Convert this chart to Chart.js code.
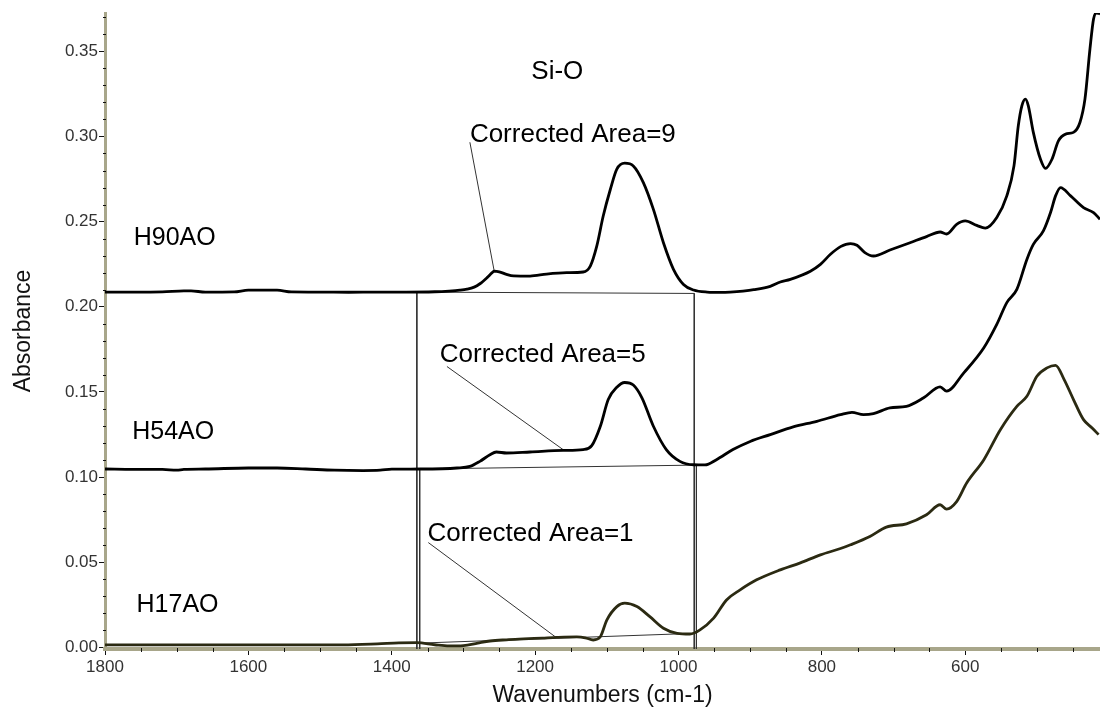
<!DOCTYPE html>
<html>
<head>
<meta charset="utf-8">
<title>Si-O absorbance</title>
<script src="https://cdn.jsdelivr.net/npm/chart.js@4.4.1/dist/chart.umd.min.js"></script>
<style>
  html, body { margin: 0; padding: 0; background: #fff; }
  #wrap { width: 1100px; height: 719px; }
</style>
</head>
<body>
<div id="wrap"><canvas id="chart"></canvas></div>
<script>
/* ---------- DATA ---------- */
const xTickValues = [1800, 1600, 1400, 1200, 1000, 800, 600];
const yTickValues = [0, 0.05, 0.10, 0.15, 0.20, 0.25, 0.30, 0.35];

const h90Wn = [1800, 1760, 1720, 1690, 1680, 1660, 1620, 1600, 1560, 1540, 1500, 1460, 1420, 1380, 1340, 1320,
  1305, 1295, 1285, 1277, 1267, 1260, 1257, 1250, 1240, 1230, 1207, 1184, 1156, 1133, 1123, 1114, 1105, 1095,
  1086, 1075, 1063, 1049, 1035, 1021, 1007, 993, 979, 960, 940, 928, 910, 895, 872, 858, 844, 816, 802, 788,
  774, 760, 751, 740, 728, 705, 677, 654, 635, 626, 612, 600, 584, 572, 556, 542, 532, 526, 521, 516, 512,
  505, 495, 488, 479, 470, 460, 449, 440, 433, 426, 421, 417, 412];
const h90Abs = [0.2086, 0.2086, 0.2087, 0.2093, 0.2093, 0.2086, 0.2087, 0.2097, 0.2097, 0.2087, 0.2086, 0.2085,
  0.2086, 0.2086, 0.2088, 0.2092, 0.2097, 0.2103, 0.2115, 0.2135, 0.2171, 0.2200, 0.2209, 0.2205, 0.2190,
  0.2181, 0.2180, 0.2192, 0.2200, 0.2204, 0.2239, 0.2356, 0.2533, 0.2690, 0.2808, 0.2843, 0.2827, 0.2729,
  0.2572, 0.2376, 0.2220, 0.2131, 0.2098, 0.2086, 0.2084, 0.2086, 0.2092, 0.2100, 0.2120, 0.2145, 0.2161,
  0.2209, 0.2249, 0.2308, 0.2353, 0.2371, 0.2361, 0.2318, 0.2298, 0.2333, 0.2376, 0.2412, 0.2439, 0.2427,
  0.2484, 0.2504, 0.2478, 0.2462, 0.2524, 0.2651, 0.2827, 0.3062, 0.3180, 0.3219, 0.3180, 0.3024, 0.2866,
  0.2812, 0.2866, 0.2974, 0.3014, 0.3024, 0.3082, 0.3219, 0.3514, 0.3690, 0.3725, 0.3720];

const h54Wn = [1800, 1760, 1720, 1700, 1690, 1660, 1600, 1560, 1520, 1480, 1440, 1416, 1400, 1360, 1309, 1291,
  1277, 1263, 1254, 1240, 1207, 1161, 1133, 1121, 1109, 1098, 1086, 1075, 1063, 1051, 1035, 1017, 998, 979,
  963, 947, 924, 900, 872, 840, 807, 774, 758, 742, 728, 705, 682, 658, 635, 626, 602, 574, 556, 542, 528,
  514, 505, 491, 481, 474, 467, 453, 435, 421, 412];
const h54Abs = [0.1047, 0.1045, 0.1045, 0.1040, 0.1045, 0.1047, 0.1053, 0.1053, 0.1047, 0.1040, 0.1038, 0.1040,
  0.1046, 0.1047, 0.1053, 0.1062, 0.1092, 0.1131, 0.1147, 0.1141, 0.1147, 0.1156, 0.1161, 0.1184, 0.1298,
  0.1455, 0.1527, 0.1555, 0.1540, 0.1465, 0.1298, 0.1161, 0.1092, 0.1072, 0.1071, 0.1102, 0.1161, 0.1209,
  0.1249, 0.1294, 0.1327, 0.1366, 0.1380, 0.1366, 0.1372, 0.1406, 0.1415, 0.1465, 0.1529, 0.1504, 0.1612,
  0.1759, 0.1896, 0.2024, 0.2102, 0.2278, 0.2366, 0.2445, 0.2553, 0.2651, 0.2700, 0.2651, 0.2582, 0.2553,
  0.2514];

const h17Wn = [1800, 1700, 1600, 1500, 1468, 1420, 1390, 1365, 1340, 1320, 1300, 1280, 1263, 1240, 1216, 1190,
  1170, 1142, 1130, 1119, 1109, 1100, 1086, 1075, 1058, 1040, 1021, 1002, 984, 970, 951, 933, 914, 891, 858,
  830, 802, 774, 760, 733, 710, 682, 654, 635, 626, 612, 598, 574, 551, 528, 514, 500, 486, 474, 462, 449,
  435, 423, 414];
const h17Abs = [0.0014, 0.0014, 0.0014, 0.0014, 0.0014, 0.0020, 0.0026, 0.0027, 0.0015, 0.0008, 0.0010, 0.0025,
  0.0037, 0.0044, 0.0049, 0.0054, 0.0058, 0.0061, 0.0056, 0.0043, 0.0062, 0.0160, 0.0239, 0.0259, 0.0239,
  0.0180, 0.0112, 0.0082, 0.0078, 0.0102, 0.0171, 0.0278, 0.0337, 0.0396, 0.0455, 0.0496, 0.0543, 0.0580,
  0.0602, 0.0651, 0.0706, 0.0725, 0.0778, 0.0837, 0.0812, 0.0856, 0.0965, 0.1102, 0.1278, 0.1415, 0.1474,
  0.1592, 0.1641, 0.1656, 0.1572, 0.1455, 0.1337, 0.1288, 0.1249];

// baselines, integration limits and leader lines: [wn1, abs1, wn2, abs2]
const guideLines = [
  [1365, 0.2086, 978, 0.2078],
  [1365, 0.2086, 1365, -0.001],
  [978, 0.2078, 978, -0.001],
  [1361, 0.1047, 975, 0.1070],
  [1361, 0.1047, 1361, -0.001],
  [975, 0.1070, 975, -0.001],
  [1365, 0.0024, 978, 0.0082],
  [1291, 0.2966, 1257, 0.2208],
  [1323, 0.1649, 1161, 0.1161],
  [1349, 0.0615, 1171, 0.0059]
];

// text notes: [text, wn, abs, size, align]
const textNotes = [
  ["Si-O", 1169, 0.3337, 26, "center"],
  ["Corrected Area=9", 1291, 0.2965, 26, "left"],
  ["Corrected Area=5", 1333, 0.1678, 26, "left"],
  ["Corrected Area=1", 1350, 0.0627, 26, "left"],
  ["H90AO", 1760, 0.2360, 25, "left"],
  ["H54AO", 1762, 0.1224, 25, "left"],
  ["H17AO", 1756, 0.0209, 25, "left"]
];

const FONT = "'Liberation Sans', Arial, sans-serif";
const axisColor = "#a8a68a";

/* ---------- HELPERS ---------- */
function pts(wn, ab) {
  return wn.map((w, i) => ({x: w, y: ab[i]}));
}

const curve = {pointRadius: 0, borderWidth: 2.8, fill: false, cubicInterpolationMode: "monotone"};

const guideSets = guideLines.map(g => ({
  data: [{x: g[0], y: g[1]}, {x: g[2], y: g[3]}],
  borderColor: "#333",
  borderWidth: 1,
  pointRadius: 0,
  tension: 0
}));

/* ---------- EXTRA DRAWING ---------- */
const extras = {
  id: "extras",
  afterDraw(chart) {
    const {ctx, chartArea, scales: {x, y}} = chart;
    ctx.save();

    // minor ticks on the axis lines
    ctx.strokeStyle = "#111";
    ctx.lineWidth = 1;
    ctx.beginPath();
    for (let w = 450; w < 1800; w += 50) {
      if (w % 200 === 0) continue;
      const px = Math.round(x.getPixelForValue(w)) + 0.5;
      ctx.moveTo(px, chartArea.bottom - 1);
      ctx.lineTo(px, chartArea.bottom + 3);
    }
    for (let i = 1; i <= 37; i++) {
      if (i % 5 === 0) continue;
      const py = Math.round(y.getPixelForValue(i / 100)) + 0.5;
      ctx.moveTo(chartArea.left - 2, py);
      ctx.lineTo(chartArea.left + 1, py);
    }
    ctx.stroke();

    // text notes
    ctx.fillStyle = "#000";
    ctx.textBaseline = "alphabetic";
    textNotes.forEach(n => {
      ctx.font = n[3] + "px " + FONT;
      ctx.textAlign = n[4];
      ctx.fillText(n[0], x.getPixelForValue(n[1]), y.getPixelForValue(n[2]));
    });
    ctx.restore();
  }
};

/* ---------- CHART ---------- */
new Chart(document.getElementById("chart"), {
  type: "line",
  data: {
    datasets: [
      {label: "H90AO", data: pts(h90Wn, h90Abs), borderColor: "#000", ...curve},
      {label: "H54AO", data: pts(h54Wn, h54Abs), borderColor: "#000", ...curve},
      {label: "H17AO", data: pts(h17Wn, h17Abs), borderColor: "#2b2a12", ...curve},
      ...guideSets
    ]
  },
  options: {
    responsive: true,
    maintainAspectRatio: false,
    animation: false,
    layout: {padding: {top: 13, left: 0, right: 0, bottom: 0}},
    plugins: {legend: {display: false}, tooltip: {enabled: false}},
    scales: {
      x: {
        type: "linear",
        reverse: true,
        min: 412,
        max: 1800,
        afterFit: s => { s.height = 70; },
        afterBuildTicks: s => { s.ticks = xTickValues.map(v => ({value: v})); },
        border: {display: true, color: axisColor, width: 4},
        grid: {display: true, drawOnChartArea: false, drawTicks: true, tickLength: 6, tickColor: "#111", tickWidth: 1},
        ticks: {color: "#333", font: {family: FONT, size: 17}, padding: 2, maxRotation: 0, autoSkip: false,
                callback: v => String(v)},
        title: {display: true, text: "Wavenumbers (cm-1)", color: "#111", font: {family: FONT, size: 23},
                padding: {top: 0, bottom: 10}}
      },
      y: {
        type: "linear",
        min: -0.001,
        max: 0.3725,
        afterFit: s => { s.width = 105; },
        afterBuildTicks: s => { s.ticks = yTickValues.map(v => ({value: v})); },
        border: {display: true, color: axisColor, width: 3},
        grid: {display: true, drawOnChartArea: false, drawTicks: true, tickLength: 6, tickColor: "#111", tickWidth: 1},
        ticks: {color: "#333", font: {family: FONT, size: 17}, padding: 1, callback: v => v.toFixed(2)},
        title: {display: true, text: "Absorbance", color: "#111", font: {family: FONT, size: 23},
                padding: {top: 10, bottom: 0}}
      }
    }
  },
  plugins: [extras]
});
</script>
</body>
</html>
